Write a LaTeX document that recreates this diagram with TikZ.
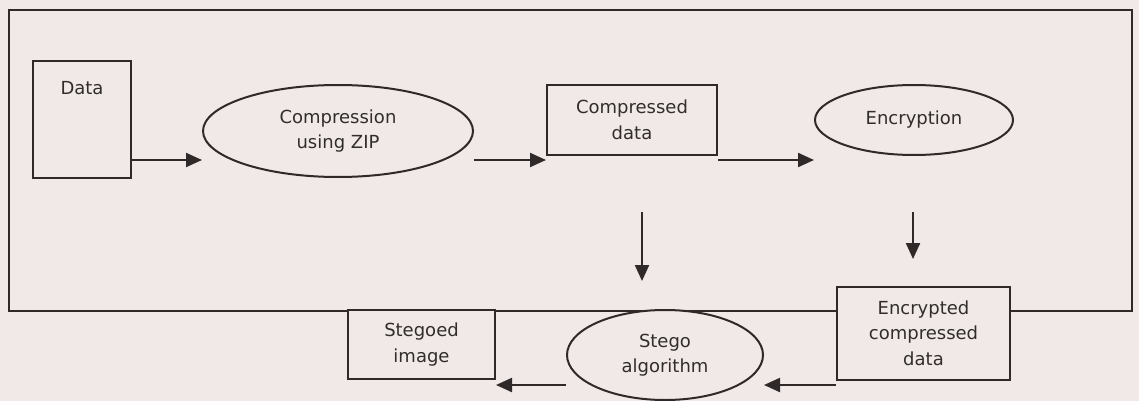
\documentclass[tikz,border=0pt]{standalone}
\usepackage{fontspec}
\setmainfont{DejaVu Sans}
\usetikzlibrary{arrows.meta,shapes.geometric}
\definecolor{paper}{RGB}{240,233,231}
\definecolor{ink}{RGB}{48,41,41}
\definecolor{inktext}{RGB}{50,45,45}
\tikzset{
  labelfont/.style={text=inktext, font=\fontsize{18}{25.5}\selectfont},
  stagebox/.style={draw=ink, fill=paper, line width=2pt, rectangle, inner sep=0pt, align=center, labelfont},
  stageoval/.style={draw=ink, fill=paper, line width=2pt, ellipse, inner sep=0pt, align=center, labelfont},
  flow/.style={draw=ink, line width=2.2pt, -{Triangle[length=16pt,width=14pt]}},
  frame/.style={draw=ink, line width=2pt}
}
\begin{document}
\begin{tikzpicture}[x=1pt,y=-1pt]
  % page
  \fill[paper] (0,0) rectangle (1139,401);
  \useasboundingbox (0,0) rectangle (1139,401);

  % enclosing frame
  \draw[frame] (9,10) rectangle (1132,311);

  % stages
  \node[stagebox, minimum width=98pt, minimum height=117pt] (data) at (82,119.5) {};
  \node[labelfont] (datalabel) at (82,88) {Data};
  \node[stageoval, minimum width=270pt, minimum height=92pt] (comp) at (338,131) {Compression\\using ZIP};
  \node[stagebox, minimum width=170pt, minimum height=70pt] (cdata) at (632,120) {Compressed\\data};
  \node[stageoval, minimum width=198pt, minimum height=70pt] (enc) at (914,120) {Encryption};
  \node[stagebox, minimum width=173pt, minimum height=93pt] (ecd) at (923.5,333) {Encrypted\\compressed\\data};
  \node[stageoval, minimum width=196pt, minimum height=90pt] (stego) at (665,355) {Stego\\algorithm};
  \node[stagebox, minimum width=147pt, minimum height=69pt] (stegoed) at (421.5,344.5) {Stegoed\\image};

  % rows of the horizontal connectors
  \coordinate (toprow) at (0,160);
  \coordinate (lowrow) at (0,385);

  % free-standing downward arrows
  \coordinate (encdropA) at (913,212);
  \coordinate (encdropB) at (913,259);
  \coordinate (coverA) at (642,212);
  \coordinate (coverB) at (642,281);

  % connectors
  \draw[flow] (data.east |- toprow) -- (comp.west |- toprow);
  \draw[flow] (comp.east |- toprow) -- (cdata.west |- toprow);
  \draw[flow] (cdata.east |- toprow) -- (enc.west |- toprow);
  \draw[flow] (encdropA) -- (encdropB);
  \draw[flow] (coverA) -- (coverB);
  \draw[flow] (ecd.west |- lowrow) -- (stego.east |- lowrow);
  \draw[flow] (stego.west |- lowrow) -- (stegoed.east |- lowrow);
\end{tikzpicture}
\end{document}
